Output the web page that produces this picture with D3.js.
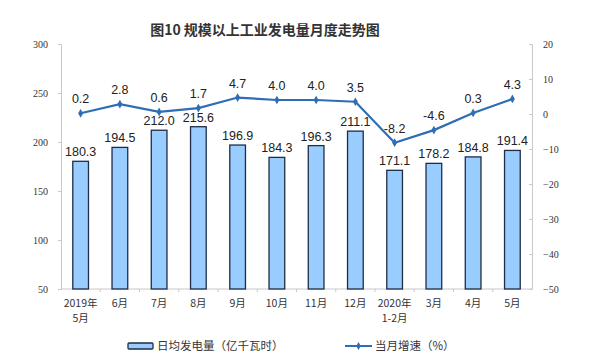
<!DOCTYPE html>
<html><head><meta charset="utf-8">
<script src="https://cdn.jsdelivr.net/npm/d3@7"></script>
<style>body{margin:0;background:#fff}</style>
</head><body>
<svg id="c" width="600" height="361"></svg>
<script>
const categories = ["2019年|5月","6月","7月","8月","9月","10月","11月","12月","2020年|1-2月","3月","4月","5月"];
const dailyOutput = [180.3,194.5,212.0,215.6,196.9,184.3,196.3,211.1,171.1,178.2,184.8,191.4];
const growth = [0.2,2.8,0.6,1.7,4.7,4.0,4.0,3.5,-8.2,-4.6,0.3,4.3];
const leftTicks = [50,100,150,200,250,300];
const rightTicks = [-50,-40,-30,-20,-10,0,10,20];

const svg = d3.select("#c");
const L = 61, R = 532, T = 44, B = 289;
const x = d3.scaleBand().domain(d3.range(categories.length)).range([L,R]).paddingInner(0.6).paddingOuter(0.3);
const yL = d3.scaleLinear().domain([50,300]).range([B,T]);
const yR = d3.scaleLinear().domain([-50,20]).range([B,T]);
const serif = "'Liberation Serif','Times New Roman',serif";
const sans = "'Liberation Sans',Arial,sans-serif";
const cjk = "'Noto Sans CJK SC',sans-serif";

svg.append("text").attr("x",265).attr("y",35).attr("text-anchor","middle")
  .attr("font-family",cjk).attr("font-size",14).attr("font-weight","bold").attr("fill","#333")
  .text("图10 规模以上工业发电量月度走势图");

// axes
const ga = svg.append("g").attr("transform",`translate(${L},0)`)
  .call(d3.axisLeft(yL).tickValues(leftTicks).tickSize(3).tickPadding(10));
ga.selectAll("text").attr("font-family",serif).attr("font-size",10).attr("fill","#333");
const gr = svg.append("g").attr("transform",`translate(${R},0)`)
  .call(d3.axisRight(yR).tickValues(rightTicks).tickSize(-3).tickPadding(11));
gr.selectAll("text").attr("font-family",serif).attr("font-size",10).attr("fill","#333");
[ga,gr].forEach(g=>{g.select(".domain").attr("stroke","#c8c8c8").attr("stroke-width",1);
  g.selectAll(".tick line").attr("stroke","#c8c8c8");});

// bottom axis line
svg.append("line").attr("x1",L).attr("x2",R).attr("y1",B).attr("y2",B).attr("stroke","#c8c8c8");
const step = x.step();
svg.selectAll(".xt").data(d3.range(1,categories.length)).join("line")
  .attr("x1",i=>x(i)-(step-x.bandwidth())/2).attr("x2",i=>x(i)-(step-x.bandwidth())/2)
  .attr("y1",B).attr("y2",B+3).attr("stroke","#c8c8c8");

// x labels
categories.forEach((c,i)=>{
  const parts = c.split("|");
  const t = svg.append("text").attr("x",x(i)+x.bandwidth()/2).attr("y",307)
    .attr("text-anchor","middle").attr("font-family",cjk).attr("font-size",10.5).attr("fill","#333");
  parts.forEach((p,j)=>t.append("tspan").attr("x",x(i)+x.bandwidth()/2).attr("dy",j?15:0).text(p));
});

// bars
svg.selectAll(".bar").data(dailyOutput).join("rect")
  .attr("x",(d,i)=>x(i)).attr("width",x.bandwidth())
  .attr("y",d=>yL(d)).attr("height",d=>B-yL(d))
  .attr("fill","#99ccff").attr("stroke","#1f2d45").attr("stroke-width",1.3);
svg.selectAll(".bl").data(dailyOutput).join("text")
  .attr("x",(d,i)=>x(i)+x.bandwidth()/2).attr("y",d=>yL(d)-5)
  .attr("text-anchor","middle").attr("font-family",sans).attr("font-size",12.5).attr("fill","#222")
  .text(d=>d.toFixed(1));

// line
const cx = i=>x(i)+x.bandwidth()/2;
svg.append("path").datum(growth)
  .attr("d",d3.line().x((d,i)=>cx(i)).y(d=>yR(d)))
  .attr("fill","none").attr("stroke","#2f6db5").attr("stroke-width",2.2);
svg.selectAll(".pt").data(growth).join("path")
  .attr("transform",(d,i)=>`translate(${cx(i)},${yR(d)})`)
  .attr("d",d3.symbol(d3.symbolDiamond,22)).attr("fill","#2f6db5");
svg.selectAll(".gl").data(growth).join("text")
  .attr("x",(d,i)=>cx(i)).attr("y",d=>yR(d)-10)
  .attr("text-anchor","middle").attr("font-family",sans).attr("font-size",12.5).attr("fill","#222")
  .text(d=>d.toFixed(1));

// legend
svg.append("rect").attr("x",128).attr("y",343).attr("width",25).attr("height",6)
  .attr("fill","#99ccff").attr("stroke","#1f2d45").attr("stroke-width",1.3).attr("rx",1);
svg.append("text").attr("x",157).attr("y",350).attr("font-family",cjk).attr("font-size",11.5).attr("fill","#333")
  .text("日均发电量（亿千瓦时）");
svg.append("line").attr("x1",345).attr("x2",372).attr("y1",346).attr("y2",346).attr("stroke","#2f6db5").attr("stroke-width",2);
svg.append("path").attr("transform","translate(358.5,346)").attr("d",d3.symbol(d3.symbolDiamond,18)).attr("fill","#2f6db5");
svg.append("text").attr("x",375).attr("y",350).attr("font-family",cjk).attr("font-size",11.5).attr("fill","#333")
  .text("当月增速（%）");
</script>
</body></html>
